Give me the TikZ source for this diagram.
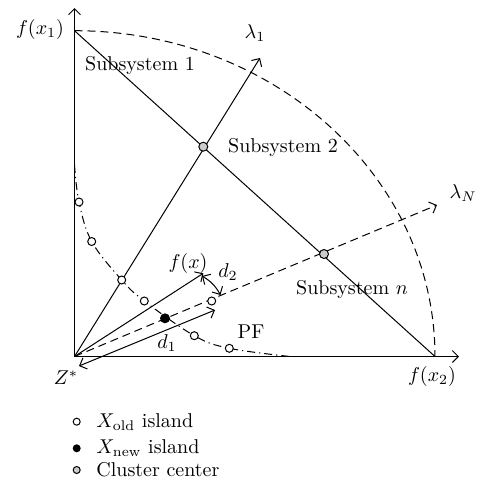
\documentclass[tikz,border=0pt]{standalone}
\usepackage{tikz}
\usetikzlibrary{arrows.meta, calc, positioning}

\begin{document}
\begin{tikzpicture}[x=0.5pt, y=-0.5pt,
  vec/.style={line width=0.5pt, -{Straight Barb[length=3pt,width=6pt]}},
  dvec/.style={line width=0.5pt, {Straight Barb[length=3pt,width=6pt]}-{Straight Barb[length=3pt,width=6pt]}},
  xold/.style={circle, draw, line width=0.5pt, fill=white, inner sep=0pt, minimum size=4pt},
  xnew/.style={circle, fill=black, inner sep=0pt, minimum size=5pt},
  clus/.style={circle, draw, line width=0.5pt, fill=black!20, inner sep=0pt, minimum size=4.5pt},
  lab/.style={inner sep=1pt}]
\useasboundingbox (0,0) rectangle (480,488);
% Puntos principales
\coordinate (Z) at (74.5,356.5);
\coordinate (F1) at (74.5,30.7);
\coordinate (F2) at (435,356.5);
\coordinate (Ytop) at (74.5,8);
\coordinate (Xend) at (459,356.5);
\coordinate (L1) at (260,58);
\coordinate (LN) at (437,205);
\coordinate (FX) at (203.3,273.3);
\coordinate (D1a) at (79,366);
\coordinate (D1b) at (215,310);
\coordinate (D2a) at (202,276);
\coordinate (D2b) at (220.5,295);
% Frente de Pareto y arco
\draw[line width=0.5pt, dashed, dash pattern=on 4pt off 2.5pt] (F1) arc[start angle=90, end angle=0, x radius=180.25pt, y radius=162.9pt];
\draw[line width=0.5pt, dash pattern=on 4pt off 2pt on 0.6pt off 2pt] plot[smooth, tension=0.6] coordinates {(74.5,165) (79,202) (91.7,241.5) (121.7,280) (144.3,301) (194.3,335.7) (229.3,348.3) (290,356.5)};
% Ejes y direcciones
\draw[vec] (Z) -- (Ytop);
\draw[vec] (Z) -- (Xend);
\draw[line width=0.5pt] (F1) -- (F2);
\draw[vec] (Z) -- (L1);
\draw[vec, dashed, dash pattern=on 4pt off 2.5pt] (Z) -- (LN);
\draw[vec] (Z) -- (FX);
\draw[dvec] (D1a) -- (D1b);
\draw[dvec] (D2a) to[bend left=15] (D2b);
% Islas
\node[xold] (p1) at (79,202) {};
\node[xold] (p2) at (91.7,241.5) {};
\node[xold] (p3) at (121.7,280) {};
\node[xold] (p4) at (144.3,301) {};
\node[xold] (p5) at (194.3,335.7) {};
\node[xold] (p6) at (229.3,348.3) {};
\node[xold] (pr) at (211.7,301) {};
\node[xnew] (nw) at (165,318.3) {};
\node[clus] (c2) at (203.3,146.7) {};
\node[clus] (cn) at (324,254) {};
% Etiquetas
\node[lab] (f1) at (40,29) {$f(x_1)$};
\node[lab] (f2) at (432,376) {$f(x_2)$};
\node[lab] (zs) at (66,378) {$Z^*$};
\node[lab] (l1) at (255,33) {$\lambda_1$};
\node[lab] (ln) at (463,193) {$\lambda_N$};
\node[lab] (s1) at (140,65) {Subsystem 1};
\node[lab] (s2) at (283,147) {Subsystem 2};
\node[lab] (sn) at (352,289) {Subsystem $n$};
\node[lab] (pf) at (251,332) {PF};
\node[lab] (fx) at (188,263) {$f(x)$};
\node[lab] (d2) at (228,272) {$d_2$};
\node[lab] (d1) at (167,343) {$d_1$};
% Leyenda
\node[xold, minimum size=3.5pt] (m1) at (76.7,421.7) {};
\node[xnew, minimum size=4pt] (m2) at (76.7,448.3) {};
\node[clus, minimum size=3.5pt] (m3) at (76.7,470) {};
\node[lab, anchor=west] (t1) at (94,421.7) {$X_{\mathrm{old}}$ island};
\node[lab, anchor=west] (t2) at (94,448.3) {$X_{\mathrm{new}}$ island};
\node[lab, anchor=west] (t3) at (94,470) {Cluster center};
\end{tikzpicture}
\end{document}
